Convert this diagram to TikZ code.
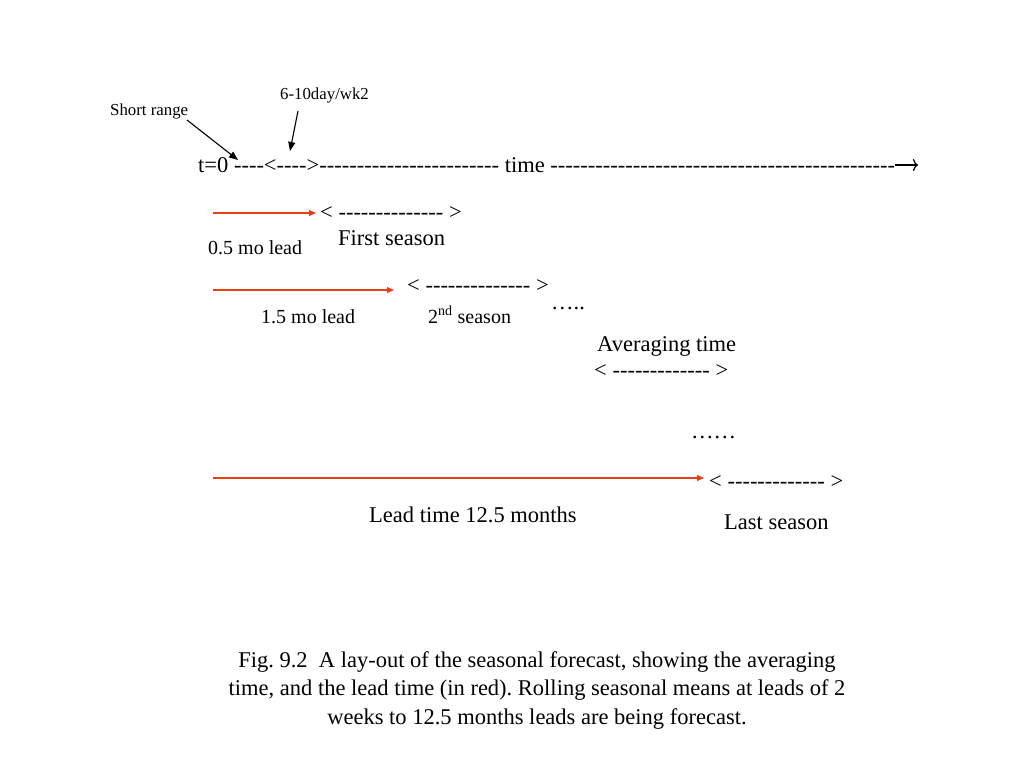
\documentclass[tikz,border=0pt]{standalone}
\usepackage{fontspec}
\setmainfont{Liberation Serif}[Ligatures=TeXOff]
\usetikzlibrary{arrows.meta}
\definecolor{leadred}{RGB}{232,62,22}
\tikzset{
  lbl/.style={inner sep=0pt, anchor=base west, font=\fontsize{22.5}{27}\selectfont},
  sml/.style={inner sep=0pt, anchor=base west, font=\fontsize{20}{24}\selectfont},
  tiny/.style={inner sep=0pt, anchor=base west, font=\fontsize{16.8}{20}\selectfont},
  leadarrow/.style={draw=leadred, line width=1.1pt, -{Triangle[length=7pt,width=6pt]}},
  ptr/.style={draw=black, line width=1.1pt, -{Triangle[length=9pt,width=7pt]}},
}
\begin{document}
\begin{tikzpicture}[x=1pt,y=-1pt]
\useasboundingbox[fill=white] (0,0) rectangle (1024,768);
% main time line
\node[lbl] (main) at (198,172) {t=0 ----<---->------------------------ time ----------------------------------------------};
\coordinate (arrend) at (918,165);
\draw[line width=1.2pt, -{To[length=5pt,width=12pt]}] (main.east |- arrend) -- (arrend);
% labels with pointers
\node[tiny] (short) at (110,115) {Short range};
\node[tiny] (wk2) at (280,99) {6-10day/wk2};
\coordinate (shorttail) at (187,120);
\coordinate (shortend) at (238,160);
\coordinate (wk2tail) at (298,111);
\coordinate (wk2end) at (290,151);
\draw[ptr] (shorttail) -- (shortend);
\draw[ptr] (wk2tail) -- (wk2end);
% first season
\node[lbl] (s1) at (320,219) {< -------------- >};
\node[lbl] (s1t) at (338,245) {First season};
\node[sml] (l1) at (208,254) {0.5 mo lead};
\coordinate (a1) at (213,213);
\coordinate (a1e) at (316,213);
\draw[leadarrow] (a1) -- (a1e);
% second season
\node[lbl] (s2) at (407,292) {< -------------- >};
\node[sml] (s2t) at (428,323) {2\textsuperscript{nd} season};
\node[sml] (l2) at (261,323) {1.5 mo lead};
\node[lbl] (dots1) at (551,309) {…..};
\coordinate (a2) at (213,290);
\coordinate (a2e) at (394,290);
\draw[leadarrow] (a2) -- (a2e);
% averaging time
\node[lbl] (avt) at (597,351) {Averaging time};
\node[lbl] (avb) at (594,377) {< ------------- >};
\node[lbl] (dots2) at (691,438) {……};
% last season
\node[lbl] (s3) at (709,488) {< ------------- >};
\node[lbl] (s3t) at (724,529) {Last season};
\node[lbl] (l3) at (369,522) {Lead time 12.5 months};
\coordinate (a3) at (213,478);
\coordinate (a3e) at (704,478);
\draw[leadarrow] (a3) -- (a3e);
% caption
\node[inner sep=0pt, anchor=base, align=center, font=\fontsize{22.5}{28.5}\selectfont] (cap) at (537,724)
{Fig.\ 9.2\ \ A lay-out of the seasonal forecast, showing the averaging\\
time, and the lead time (in red).\ Rolling seasonal means at leads of 2\\
weeks to 12.5 months leads are being forecast.};
\end{tikzpicture}
\end{document}
